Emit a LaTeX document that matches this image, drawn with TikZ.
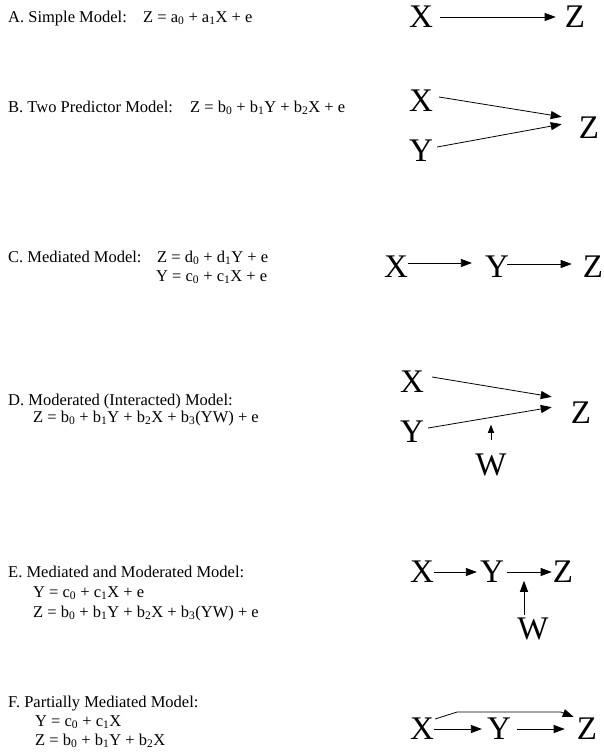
\documentclass[tikz,border=0pt]{standalone}
\usepackage{fontspec}
\setmainfont{Liberation Serif}
\usetikzlibrary{arrows.meta, calc}
\newcommand{\lo}[1]{\textsubscript{#1}}

\tikzset{
  txt/.style={anchor=base west, inner sep=0pt, font=\fontsize{16.5}{20}\selectfont},
  var/.style={inner sep=0pt, font=\fontsize{33}{36}\selectfont},
  link/.style={-{Triangle[length=11pt,width=8pt]}, line width=0.8pt, shorten >=1pt},
}

\begin{document}
\begin{tikzpicture}[x=1pt, y=-1pt]
\useasboundingbox (0,0) rectangle (604,753);

% A. simple model
\node[txt] (aT) at (8,22) {A. Simple Model:};
\node[txt] (aEq) at (143,22) {Z = a\lo0 + a\lo1X + e};
\node[var] (aX) at (421,17) {X};
\node[var] (aZ) at (575,17) {Z};
\draw[link, shorten <=7pt, shorten >=9pt] (aX) -- (aZ);

% B. two predictors
\node[txt] (bT) at (8,112) {B. Two Predictor Model:};
\node[txt] (bEq) at (190,112) {Z = b\lo0 + b\lo1Y + b\lo2X + e};
\node[var] (bX) at (421,101) {X};
\node[var] (bY) at (421,151) {Y};
\node[var] (bZ) at (589,128) {Z};
\draw[link] ($(bX.east)+(6,-4)$) -- ($(bZ.west)+(-16,-11)$);
\draw[link] ($(bY.east)+(4,-4)$) -- ($(bZ.west)+(-16,-4)$);

% C. mediated
\node[txt] (cT) at (8,262) {C. Mediated Model:};
\node[txt] (cEq1) at (157,262) {Z = d\lo0 + d\lo1Y + e};
\node[txt] (cEq2) at (156,281) {Y = c\lo0 + c\lo1X + e};
\node[var] (cX) at (396,267) {X};
\node[var] (cY) at (497,267) {Y};
\node[var] (cZ) at (593,267) {Z};
\draw[link] ($(cX.east)+(0,-4)$) -- ($(cY.west)+(-12,-4)$);
\draw[link] ($(cY.east)+(-2,-3)$) -- ($(cZ.west)+(-10,-3)$);

% D. moderated
\node[txt] (dT) at (8,405) {D. Moderated (Interacted) Model:};
\node[txt] (dEq) at (33,422) {Z = b\lo0 + b\lo1Y + b\lo2X + b\lo3(YW) + e};
\node[var] (dX) at (412,382) {X};
\node[var] (dY) at (412,432) {Y};
\node[var] (dZ) at (581,413) {Z};
\node[var] (dW) at (491,465) {W};
\draw[link] ($(dX.east)+(8,-5)$) -- ($(dZ.west)+(-18,-16)$);
\draw[link] ($(dY.east)+(4,-4)$) -- ($(dZ.west)+(-18,-6)$);
\draw[link, -{Triangle[length=8pt,width=6pt]}] ($(dW.north)+(0,-14)$) -- ($(dW.north)+(0,-30)$);

% E. mediated and moderated
\node[txt] (eT) at (8,577) {E. Mediated and Moderated Model:};
\node[txt] (eEq1) at (33,597) {Y = c\lo0 + c\lo1X + e};
\node[txt] (eEq2) at (33,617) {Z = b\lo0 + b\lo1Y + b\lo2X + b\lo3(YW) + e};
\node[var] (eX) at (422,572) {X};
\node[var] (eY) at (492,572) {Y};
\node[var] (eZ) at (563,572) {Z};
\node[var] (eW) at (533,629) {W};
\draw[link, shorten >=3pt] (eX) -- (eY);
\draw[link, shorten <=3pt] (eY) -- (eZ);
\draw[link] ($(eW.north)+(-9,-3)$) -- ($(eW.north)+(-9,-38)$);

% F. partially mediated
\node[txt] (fT) at (8,707) {F. Partially Mediated Model:};
\node[txt] (fEq1) at (35,726) {Y = c\lo0 + c\lo1X};
\node[txt] (fEq2) at (35,745) {Z = b\lo0 + b\lo1Y + b\lo2X};
\node[var] (fX) at (422,729) {X};
\node[var] (fY) at (499,729) {Y};
\node[var] (fZ) at (587,729) {Z};
\draw[link, shorten >=5pt] (fX) -- (fY);
\draw[link, shorten <=6pt, shorten >=12pt] (fY) -- (fZ);
\draw[link, shorten >=0pt] ($(fX.north east)+(1,1)$) -- ++(22,-7)
  -- ($(fZ.north west)+(-16,-6)$) -- ($(fZ.north west)+(-3,-1)$);
\end{tikzpicture}
\end{document}
